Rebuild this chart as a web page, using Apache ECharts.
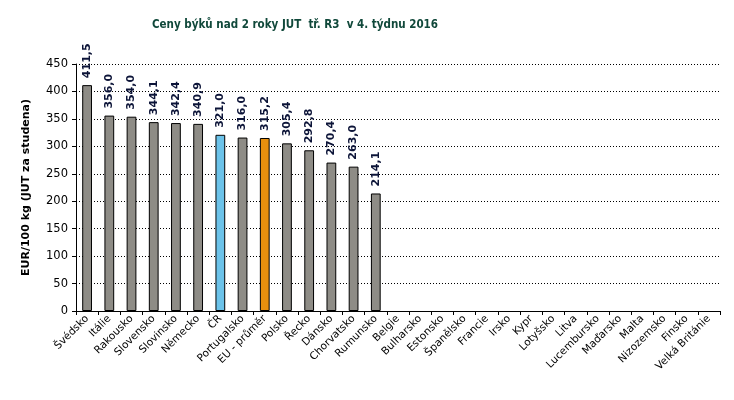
<!DOCTYPE html>
<html><head><meta charset="utf-8">
<script src="https://cdn.jsdelivr.net/npm/echarts@6/dist/echarts.min.js"></script>
<style>html,body{margin:0;padding:0;background:#fff}#c{width:734px;height:400px}</style>
</head><body><div id="c"></div>
<script>
const categories = ['Švédsko','Itálie','Rakousko','Slovensko','Slovinsko','Německo','ČR','Portugalsko','EU - průměr','Polsko','Řecko','Dánsko','Chorvatsko','Rumunsko','Belgie','Bulharsko','Estonsko','Španělsko','Francie','Irsko','Kypr','Lotyšsko','Litva','Lucembursko','Maďarsko','Malta','Nizozemsko','Finsko','Velká Británie'];
const values = [411.5,356.0,354.0,344.1,342.4,340.9,321.0,316.0,315.2,305.4,292.8,270.4,263.0,214.1,null,null,null,null,null,null,null,null,null,null,null,null,null,null,null];
const yTicks = [0,50,100,150,200,250,300,350,400,450];
const colorMap = {'ČR':'#6cc3ea','EU - průměr':'#e8900e'};
const gray = '#8e8c86';
const chart = echarts.init(document.getElementById('c'));
chart.setOption({
  animation:false,
  title:{text:'Ceny býků nad 2 roky JUT  tř. R3  v 4. týdnu 2016',left:290,top:14,textAlign:'center',
    textStyle:{fontFamily:'DejaVu Sans Condensed',fontSize:11.5,fontWeight:'bold',color:'#10483a'}},
  grid:{left:76,right:14,top:64,bottom:89},
  xAxis:{type:'category',data:categories,
    axisLine:{lineStyle:{color:'#000'}},
    axisTick:{show:true,alignWithLabel:false,lineStyle:{color:'#000'},length:4},
    axisLabel:{rotate:45,interval:0,fontFamily:'DejaVu Sans',fontSize:10.5,color:'#000',margin:6}},
  yAxis:{type:'value',min:0,max:450,interval:50,
    name:'EUR/100 kg (JUT za studena)',nameLocation:'middle',nameGap:44,nameRotate:90,
    nameTextStyle:{fontFamily:'DejaVu Sans',fontSize:11,fontWeight:'bold',color:'#000'},
    axisLine:{show:true,lineStyle:{color:'#000'}},
    axisTick:{show:true,length:4,lineStyle:{color:'#000'}},
    axisLabel:{fontFamily:'DejaVu Sans',fontSize:11.5,color:'#000',margin:8,
      formatter:v=>yTicks.includes(v)?String(v):''},
    splitLine:{lineStyle:{color:'#000',type:[1,2],width:1}}},
  series:[{type:'bar',barWidth:'44%',
    data:values.map((v,i)=>({value:v,itemStyle:{color:colorMap[categories[i]]||gray}})),
    itemStyle:{borderColor:'#000',borderWidth:1},
    label:{show:true,position:'top',rotate:90,align:'left',verticalAlign:'middle',distance:7,
      fontFamily:'DejaVu Sans',fontSize:11,fontWeight:'bold',color:'#0c1438',
      formatter:p=>p.value==null?'':p.value.toFixed(1).replace('.',','),}}]
});
</script></body></html>
